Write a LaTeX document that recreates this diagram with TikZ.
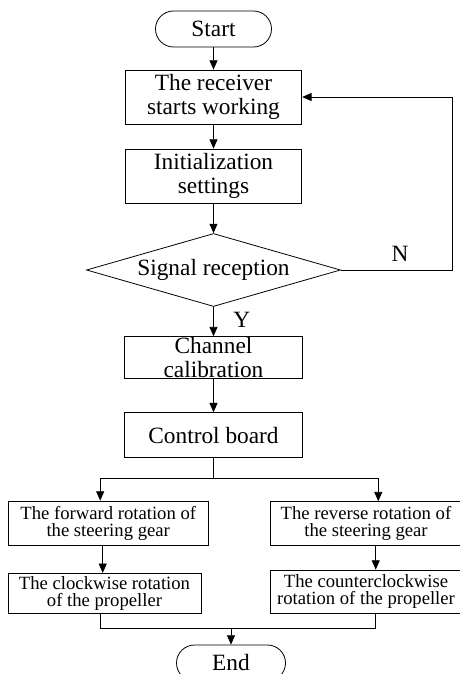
\documentclass[tikz,border=0pt]{standalone}
\usepackage{fontspec}
\setmainfont{Liberation Serif}
\usetikzlibrary{shapes.geometric,arrows.meta}

\newcommand{\bigtext}{\fontsize{17.5pt}{18.5pt}\selectfont}
\newcommand{\smalltext}{\fontsize{14pt}{12.5pt}\selectfont}

\begin{document}
\begin{tikzpicture}[x=0.75pt,y=-0.75pt,line width=0.6pt,
  every node/.style={inner sep=0pt,align=center},
  box/.style={draw,rectangle,font=\bigtext},
  sbox/.style={draw,rectangle,font=\smalltext},
  term/.style={draw,rectangle,rounded corners=13.5pt,minimum height=27pt,font=\bigtext},
  arr/.style={-{Triangle[length=7pt,width=6pt]}}]
\useasboundingbox (0,0) rectangle (460,674);
\clip (0,0) rectangle (460,674);

% main column
\node[term,minimum width=87pt] (start) at (213.5,29) {Start};
\node[box,minimum width=132.5pt,minimum height=40.5pt] (recv) at (213.5,97) {The receiver\\starts working};
\node[box,minimum width=132.5pt,minimum height=40.5pt] (init) at (213.5,176) {Initialization\\settings};
\node[draw,diamond,aspect=3.48,minimum width=190.5pt,minimum height=54.75pt,font=\bigtext] (sig) at (213.5,270) {Signal reception};
\node[box,minimum width=133.5pt,minimum height=31.3pt,inner ysep=-2pt] (chan) at (213.5,357.5) {Channel\\calibration};
\node[box,minimum width=133.5pt,minimum height=33.75pt] (ctrl) at (213.5,435.2) {Control board};

% two branches
\node[sbox,minimum width=150.2pt,minimum height=33.2pt] (left1) at (108.2,523.2) {The forward rotation of\\the steering gear};
\node[sbox,minimum width=144.75pt,minimum height=30pt] (left2) at (104.5,593.3) {The clockwise rotation\\of the propeller};
\node[sbox,minimum width=144pt,minimum height=32.5pt] (right1) at (366,523.3) {The reverse rotation of\\the steering gear};
\node[sbox,minimum width=144pt,minimum height=32.5pt] (right2) at (366,591.7) {The counterclockwise\\rotation of the propeller};
\node[term,minimum width=81.75pt] (end) at (231,663) {End};

\node[font=\bigtext] (no) at (400,254) {N};
\node[font=\bigtext] (yes) at (241.7,320) {Y};

\coordinate (fb) at (452.7,270);
\coordinate (split) at (213.5,478.3);
\coordinate (join) at (231,628.3);

\draw[arr] (start) -- (recv);
\draw[arr] (recv) -- (init);
\draw[arr] (init) -- (sig);
\draw[arr] (sig) -- (chan);
\draw[arr] (chan) -- (ctrl);
\draw[arr] (sig.east) -- (fb) |- (recv.east);

\draw (ctrl) -- (split);
\draw[arr] (split) -| ([xshift=-6pt]left1.north);
\draw[arr] (split) -| ([xshift=9.2pt]right1.north);
\draw[arr] ([xshift=-4.1pt]left1.south) -- ([xshift=-4.1pt]left1.south |- left2.north);
\draw[arr] ([xshift=7.3pt]right1.south) -- ([xshift=7.3pt]right1.south |- right2.north);

\draw ([xshift=-3.4pt]left2.south) |- (join) -| ([xshift=7.3pt]right2.south);
\draw[arr] (join) -- (end);
\end{tikzpicture}
\end{document}
